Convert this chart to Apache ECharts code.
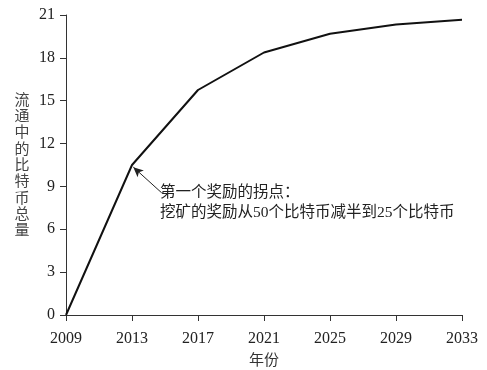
<!DOCTYPE html>
<html><head><meta charset="utf-8">
<script src="https://cdn.jsdelivr.net/npm/echarts@6/dist/echarts.min.js"></script>
<style>html,body{margin:0;padding:0;background:#fff}#c{width:487px;height:370px}</style>
</head><body><div id="c"></div>
<script>
const years = [2009, 2013, 2017, 2021, 2025, 2029, 2033];
const supply = [0, 10.5, 15.75, 18.375, 19.69, 20.34, 20.67];
const yTicks = [0, 3, 6, 9, 12, 15, 18, 21];
const xName = '年份';
const yName = '流通中的比特币总量';
const noteLines = ['第一个奖励的拐点：', '挖矿的奖励从50个比特币减半到25个比特币'];
const baseYear = years[0];

const serif = '"Liberation Serif", "Noto Sans CJK SC", serif';
const chart = echarts.init(document.getElementById('c'));
chart.setOption({
  animation: false,
  grid: { left: 66, right: 25, top: 15, bottom: 55, containLabel: false, outerBoundsMode: 'none' },
  xAxis: {
    type: 'value', min: 0, max: years[years.length-1] - baseYear, interval: 4,
    name: xName, nameLocation: 'middle', nameGap: 39,
    nameTextStyle: { fontFamily: serif, fontSize: 15, color: '#333' },
    axisLine: { lineStyle: { color: '#333', width: 1 } },
    axisTick: { inside: false, length: 6, lineStyle: { color: '#333' } },
    axisLabel: { formatter: v => String(v + baseYear), fontFamily: serif, fontSize: 16, color: '#222', margin: 16 },
    splitLine: { show: false }
  },
  yAxis: {
    type: 'value', min: yTicks[0], max: yTicks[yTicks.length-1], interval: 3,
    axisLine: { show: true, lineStyle: { color: '#333', width: 1 } },
    axisTick: { show: true, length: 6, lineStyle: { color: '#333' } },
    axisLabel: { fontFamily: serif, fontSize: 16, color: '#222', margin: 11 },
    splitLine: { show: false }
  },
  series: [{
    type: 'line',
    data: years.map((y, i) => [y - baseYear, supply[i]]),
    symbol: 'none',
    lineStyle: { color: '#111', width: 2 },
    markLine: {
      silent: true, symbol: ['none', 'arrow'], symbolSize: [7, 10],
      lineStyle: { color: '#222', width: 1, type: 'solid' },
      label: { show: false },
      data: [[{ coord: [5.8, 8.55] }, { coord: [4.08, 10.35] }]]
    }
  }],
  graphic: [{
    type: 'text', left: 160, top: 183,
    style: { text: noteLines.join('\n'), fontFamily: serif, fontSize: 15.5, fill: '#222', lineHeight: 20 }
  }, {
    type: 'text', x: 22, y: 166,
    style: { text: yName.split('').join('\n'), fontFamily: serif, fontSize: 15, fill: '#444', lineHeight: 16.3, align: 'center', verticalAlign: 'middle' }
  }]
});
</script></body></html>
